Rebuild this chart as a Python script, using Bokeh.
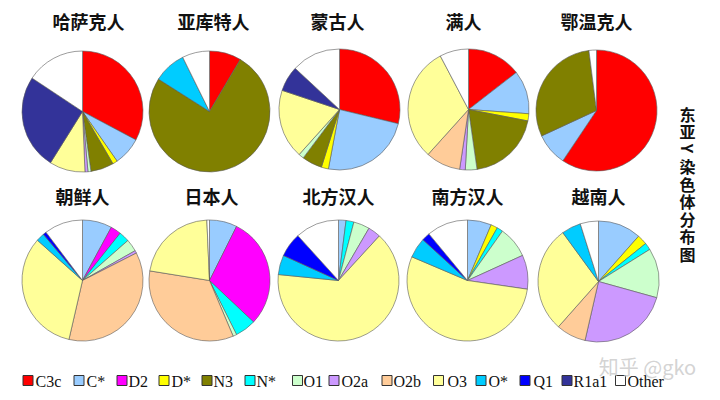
import numpy as np
from bokeh.plotting import figure
from bokeh.models import Range1d, ColumnDataSource
from bokeh.core.properties import value
from bokeh.embed import file_html
from bokeh.resources import INLINE

# ---------------- data ----------------
haplogroups = ["C3c", "C*", "D2", "D*", "N3", "N*", "O1", "O2a", "O2b", "O3", "O*", "Q1", "R1a1", "Other"]
colors = ["#FF0000", "#99CCFF", "#FF00FF", "#FFFF00", "#808000", "#00FFFF", "#CCFFCC",
          "#CC99FF", "#FFCC99", "#FFFF99", "#00CCFF", "#0000FF", "#333399", "#FFFFFF"]

populations = ["哈萨克人", "亚库特人", "蒙古人", "满人", "鄂温克人",
               "朝鲜人", "日本人", "北方汉人", "南方汉人", "越南人"]

#            C3c   C*   D2   D*   N3   N*   O1   O2a  O2b  O3   O*   Q1   R1a1 Other
kazakh     = [33.0, 7.6, 0.0, 1.3, 6.2, 0.0, 0.8, 0.8, 0.0, 9.6, 0.0, 0.0, 25.6, 15.8]
yakut      = [8.5, 0.0, 0.0, 0.0, 75.5, 0.0, 0.0, 0.0, 0.0, 0.0, 8.7, 0.0, 0.0, 7.3]
mongol     = [28.8, 24.2, 0.0, 1.9, 5.4, 0.0, 1.4, 0.0, 0.0, 18.5, 0.0, 0.0, 6.8, 13.1]
manchu     = [14.5, 11.6, 0.0, 1.9, 19.7, 0.0, 3.1, 1.5, 9.3, 30.6, 0.0, 0.0, 0.0, 7.7]
evenki     = [59.4, 8.7, 0.0, 0.0, 29.9, 0.0, 0.0, 0.0, 0.0, 0.0, 0.0, 0.0, 0.0, 2.0]
korean     = [0.0, 7.9, 2.8, 0.0, 0.0, 2.8, 3.3, 0.7, 36.1, 33.0, 2.2, 0.9, 0.0, 10.3]
japanese   = [0.0, 7.4, 29.7, 0.0, 0.0, 5.6, 1.0, 0.0, 34.0, 21.8, 0.0, 0.0, 0.0, 0.7]
north_han  = [0.0, 2.0, 0.0, 0.0, 0.0, 2.1, 4.3, 3.4, 0.0, 64.7, 5.2, 6.5, 0.0, 11.7]
south_han  = [0.0, 6.4, 0.0, 1.8, 0.0, 1.6, 8.4, 9.1, 0.0, 54.1, 5.4, 2.2, 0.0, 11.0]
vietnamese = [0.0, 11.6, 0.0, 2.7, 0.0, 1.9, 13.3, 24.4, 8.0, 28.6, 5.2, 0.0, 0.0, 4.9]

series = [kazakh, yakut, mongol, manchu, evenki, korean, japanese, north_han, south_han, vietnamese]

side_title = "东亚Y染色体分布图"
watermark = "知乎 @gko"

# ---------------- layout (picture pixel positions) ----------------
W, H = 712, 392
def X(px):
    return px
def Y(py):
    return H - py

pie_cx = [82, 209, 339, 468, 596, 82, 209, 338, 467, 598]
pie_cy = [111, 111, 109, 109, 110, 280, 280, 280, 280, 281]
pie_r = 60.5
title_x = [88, 213, 337, 463, 596, 82, 211, 338, 467, 598]
title_y = [20, 20, 20, 20, 20, 195, 195, 195, 195, 195]

p = figure(width=W, height=H, x_range=Range1d(0, W), y_range=Range1d(0, H),
           output_backend="svg", toolbar_location=None, min_border=0)
p.axis.visible = False
p.grid.visible = False
p.outline_line_color = None
p.background_fill_color = "white"
p.border_fill_color = "white"

# wedges
wx, wy, ws, we, wc = [], [], [], [], []
for i, vals in enumerate(series):
    v = np.array(vals, dtype=float)
    frac = v / v.sum()
    ends = np.cumsum(frac)
    starts = ends - frac
    for k in range(len(v)):
        if v[k] <= 0:
            continue
        wx.append(X(pie_cx[i])); wy.append(Y(pie_cy[i]))
        ws.append(np.pi / 2 - 2 * np.pi * starts[k])
        we.append(np.pi / 2 - 2 * np.pi * ends[k])
        wc.append(colors[k])
src = ColumnDataSource(dict(x=wx, y=wy, s=ws, e=we, c=wc))
p.wedge(x="x", y="y", radius=pie_r, start_angle="s", end_angle="e", direction="clock",
        fill_color="c", line_color="#5a5a5a", line_width=0.6, source=src)

# titles
tsrc = ColumnDataSource(dict(x=[X(v) for v in title_x], y=[Y(v) for v in title_y], t=populations))
p.text(x="x", y="y", text="t", source=tsrc, text_align="center", text_baseline="middle",
       text_font=value("Noto Sans CJK SC"), text_font_size="18px", text_color="#111111",
       text_font_style="bold")

# vertical side title
chars = list(side_title)
cy = np.linspace(113, 253, len(chars))
for ch, yy in zip(chars, cy):
    p.text(x=[X(687)], y=[Y(yy)], text=[ch], text_align="center", text_baseline="middle",
           angle=(-np.pi / 2 if ch == "Y" else 0),
           text_font=value("Noto Sans CJK SC"), text_font_size="16px",
           text_font_style="bold", text_color="#111111")

# legend
sq_x = [27.5, 78.5, 121.5, 163.5, 206.5, 249.5, 297, 333.5, 386.5, 438, 480.5, 524.5, 566.5, 620]
lab_x = [35, 86, 128, 171, 213, 256, 303, 341, 393, 447, 488, 533, 573, 627]
p.rect(x=[X(v) for v in sq_x], y=[Y(380)] * len(sq_x), width=10, height=10, fill_color=colors,
       line_color="#333333", line_width=1)
p.text(x=[X(v) for v in lab_x], y=[Y(381)] * len(lab_x), text=haplogroups, text_align="left",
       text_baseline="middle", text_font=value("Liberation Serif"), text_font_size="16px",
       text_color="#111111")

# watermark
p.text(x=[X(647)], y=[Y(366)], text=[watermark], text_align="center", text_baseline="middle",
       text_font=value("Noto Sans CJK SC"), text_font_size="20px", text_color="#c8c8c8",
       text_alpha=0.8)

open("out.html", "w").write(file_html(p, INLINE))
